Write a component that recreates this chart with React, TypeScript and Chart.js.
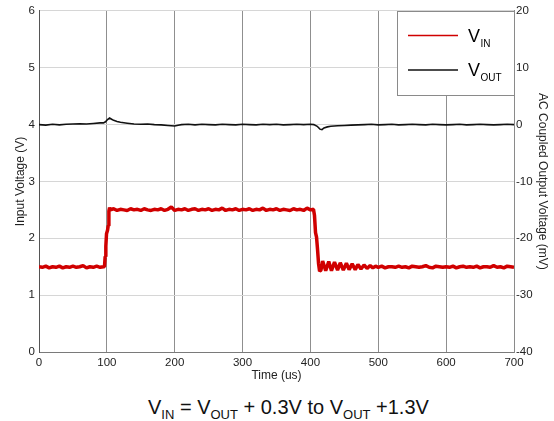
import React, { useEffect, useRef } from "react";
import { Chart, registerables } from "chart.js";

Chart.register(...registerables);

const FONT = "'Liberation Sans', Arial, Helvetica, sans-serif";

// ---- axes ----
const xTicks = [0, 100, 200, 300, 400, 500, 600, 700];
const yLeftTicks = [0, 1, 2, 3, 4, 5, 6];
const yRightTicks = [-40, -30, -20, -10, 0, 10, 20];

// ---- V_IN (left axis, volts) ----
const vinTime = [
  0, 5, 10, 15, 20, 25, 30, 35, 40, 45, 50, 55, 60, 65, 70, 75, 80, 85, 90, 95,
  96.5, 97.5, 98.5, 99.5, 101, 102, 103, 104,
  105, 110, 115, 120, 125, 130, 135, 140, 145, 150, 155, 160, 165, 170, 175, 180, 185, 190, 195, 200,
  205, 210, 215, 220, 225, 230, 235, 240, 245, 250, 255, 260, 265, 270, 275, 280, 285, 290, 295, 300,
  305, 310, 315, 320, 325, 330, 335, 340, 345, 350, 355, 360, 365, 370, 375, 380, 385, 390, 395, 400,
  404.5, 406, 407.5, 409, 410.5, 412, 413.5, 415.5,
  418, 422.5, 427, 431, 435.5, 440, 444, 448.5, 453, 457, 461.5, 466, 470, 474.5, 479, 483.5, 488, 492, 496,
  500, 505, 510, 515, 520, 525, 530, 535, 540, 545, 550, 555, 560, 565, 570, 575, 580, 585, 590, 595,
  600, 605, 610, 615, 620, 625, 630, 635, 640, 645, 650, 655, 660, 665, 670, 675, 680, 685, 690, 695, 700,
];
const vinVolts = [
  1.5, 1.49, 1.51, 1.48, 1.5, 1.49, 1.51, 1.48, 1.5, 1.49, 1.51, 1.49, 1.5, 1.52, 1.48, 1.5, 1.49, 1.51, 1.49, 1.5,
  1.5, 1.68, 1.86, 2.08, 2.14, 2.22, 2.48, 2.54,
  2.5, 2.52, 2.49, 2.51, 2.5, 2.49, 2.52, 2.5, 2.51, 2.49, 2.52, 2.5, 2.49, 2.51, 2.5, 2.52, 2.49, 2.51, 2.55, 2.49,
  2.51, 2.5, 2.52, 2.49, 2.51, 2.52, 2.49, 2.51, 2.5, 2.52, 2.49, 2.51, 2.5, 2.53, 2.49, 2.51, 2.5, 2.52, 2.49, 2.51,
  2.5, 2.52, 2.49, 2.51, 2.5, 2.53, 2.49, 2.51, 2.5, 2.52, 2.49, 2.51, 2.5, 2.49, 2.52, 2.5, 2.51, 2.49, 2.53, 2.5,
  2.51, 2.4, 2.1, 2.02, 1.8, 1.55, 1.42, 1.44,
  1.6, 1.43, 1.59, 1.43, 1.58, 1.44, 1.57, 1.44, 1.56, 1.45, 1.55, 1.45, 1.54, 1.46, 1.53, 1.47, 1.52, 1.48, 1.51,
  1.49, 1.51, 1.48, 1.5, 1.5, 1.49, 1.51, 1.49, 1.5, 1.48, 1.51, 1.5, 1.49, 1.5, 1.52, 1.49, 1.48, 1.51, 1.5, 1.49,
  1.5, 1.49, 1.51, 1.48, 1.5, 1.51, 1.49, 1.5, 1.49, 1.51, 1.48, 1.5, 1.5, 1.49, 1.52, 1.49, 1.5, 1.48, 1.51, 1.5, 1.49,
];

// ---- V_OUT (right axis, mV, AC coupled) ----
const voutTime = [
  0, 10, 20, 30, 40, 50, 60, 70, 80, 90, 95, 98, 101, 104, 107, 110, 115, 120, 130, 140, 150, 160, 170, 180, 190,
  200, 205, 210, 220, 230, 240, 250, 260, 270, 280, 290, 300, 310, 320, 330, 340, 350, 360, 370, 380, 390,
  400, 405, 410, 414, 417, 420, 425, 430, 440, 450, 460, 470, 480, 490,
  500, 510, 520, 530, 540, 550, 560, 570, 580, 590, 600, 610, 620, 630, 640, 650, 660, 670, 680, 690, 700,
];
const voutMv = [
  0, -0.1, 0.05, -0.05, 0.05, 0.1, 0.15, 0.1, 0.2, 0.3, 0.3, 0.5, 0.9, 1.15, 0.95, 0.75, 0.55, 0.4, 0.25, 0.1, 0.05, 0.1, 0, -0.05, -0.15,
  -0.25, -0.1, 0, 0.05, -0.05, 0.05, 0, -0.05, 0.05, 0, -0.05, 0.05, 0, -0.05, 0.05, 0, 0.05, -0.05, 0, 0.05, 0,
  0.05, 0, -0.3, -0.8, -0.9, -0.6, -0.4, -0.3, -0.2, -0.15, -0.1, -0.05, 0, 0.05,
  -0.05, 0, 0.05, -0.05, 0, 0.05, 0, -0.05, 0.05, 0, -0.05, 0, 0.05, -0.05, 0, 0.05, 0, -0.05, 0, 0.05, 0,
];

const legendItems = [
  { sub: "IN", color: "#d00000" },
  { sub: "OUT", color: "#111111" },
];

const legendPlugin = {
  id: "subscriptLegend",
  afterDatasetsDraw(chart: any) {
    const { ctx, chartArea } = chart;
    const w = 117;
    const h = 84;
    const x0 = Math.round(chartArea.right - w);
    const top = Math.round(chartArea.top);
    ctx.save();
    ctx.fillStyle = "#ffffff";
    ctx.fillRect(x0, top, w, h);
    ctx.strokeStyle = "#8a8a8a";
    ctx.lineWidth = 1;
    ctx.strokeRect(x0 + 0.5, top + 0.5, w, h);
    legendItems.forEach((item, i) => {
      const y = top + 24.5 + i * 34.5;
      ctx.strokeStyle = item.color;
      ctx.lineWidth = 1.5;
      ctx.beginPath();
      ctx.moveTo(x0 + 11, y);
      ctx.lineTo(x0 + 61, y);
      ctx.stroke();
      ctx.fillStyle = "#000000";
      ctx.textBaseline = "alphabetic";
      ctx.textAlign = "left";
      ctx.font = `18px ${FONT}`;
      ctx.fillText("V", x0 + 71, y + 6);
      const vw = ctx.measureText("V").width;
      ctx.font = `10px ${FONT}`;
      ctx.fillText(item.sub, x0 + 71 + vw + 0.5, y + 11);
    });
    ctx.restore();
  },
};

export default function App() {
  const ref = useRef<HTMLCanvasElement>(null);

  useEffect(() => {
    const tickFont = { family: FONT, size: 11.5 };
    const titleFont = { family: FONT, size: 12 };
    const chart = new Chart(ref.current as HTMLCanvasElement, {
      type: "line",
      data: {
        datasets: [
          {
            label: "VIN",
            data: vinTime.map((t, i) => ({ x: t, y: vinVolts[i] })),
            borderColor: "#d00000",
            backgroundColor: "#d00000",
            borderWidth: 3.5,
            pointRadius: 0,
            tension: 0,
            borderJoinStyle: "bevel",
            yAxisID: "y",
          },
          {
            label: "VOUT",
            data: voutTime.map((t, i) => ({ x: t, y: voutMv[i] })),
            borderColor: "#111111",
            backgroundColor: "#111111",
            borderWidth: 1.6,
            pointRadius: 0,
            tension: 0,
            yAxisID: "y2",
          },
        ],
      },
      options: {
        responsive: false,
        animation: false,
        devicePixelRatio: 1,
        layout: { padding: { top: 10, left: 0, right: 0, bottom: 0 } },
        plugins: { legend: { display: false }, tooltip: { enabled: false } },
        scales: {
          x: {
            type: "linear",
            min: 0,
            max: 700,
            afterBuildTicks: (s: any) => {
              s.ticks = xTicks.map((v) => ({ value: v }));
            },
            afterFit: (s: any) => {
              s.height = 36;
            },
            grid: { color: "#8f8f8f", lineWidth: 1, drawTicks: false },
            border: { display: true, color: "#7a7a7a", width: 1 },
            ticks: { font: tickFont, color: "#222", padding: 4, maxRotation: 0, callback: (v: any) => String(v) },
            title: { display: true, text: "Time (us)", font: titleFont, color: "#222", padding: { top: 0, bottom: 4.8 } },
          },
          y: {
            type: "linear",
            position: "left",
            min: 0,
            max: 6,
            afterBuildTicks: (s: any) => {
              s.ticks = yLeftTicks.map((v) => ({ value: v }));
            },
            afterFit: (s: any) => {
              s.width = 39;
            },
            grid: { color: "#d6d6d6", lineWidth: 1, drawTicks: false },
            border: { display: true, color: "#555555", width: 1 },
            ticks: { font: tickFont, color: "#222", padding: 4, callback: (v: any) => String(v) },
            title: { display: true, text: "Input Voltage (V)", font: titleFont, color: "#222", padding: { top: 13.3, bottom: 0 } },
          },
          y2: {
            type: "linear",
            position: "right",
            min: -40,
            max: 20,
            afterBuildTicks: (s: any) => {
              s.ticks = yRightTicks.map((v) => ({ value: v }));
            },
            afterFit: (s: any) => {
              s.width = 40;
            },
            grid: { display: false, drawTicks: false },
            border: { display: true, color: "#8a8a8a", width: 1 },
            ticks: { font: tickFont, color: "#222", padding: 2, callback: (v: any) => String(v) },
            title: {
              display: true,
              text: "AC Coupled Output Voltage (mV)",
              font: titleFont,
              color: "#222",
              padding: { top: 4.3, bottom: 0 },
            },
          },
        },
      },
      plugins: [legendPlugin],
    } as any);
    return () => chart.destroy();
  }, []);

  const sub = { fontSize: 13, position: "relative" as const, top: 5 };

  return (
    <div style={{ position: "absolute", left: 0, top: 0, width: 554, height: 421, background: "#fff" }}>
      <canvas ref={ref} width={554} height={388} style={{ display: "block", width: 554, height: 388 }} />
      <div
        style={{
          position: "absolute",
          left: 148,
          top: 396,
          fontFamily: FONT,
          fontSize: 20,
          lineHeight: "23px",
          color: "#111",
          whiteSpace: "nowrap",
        }}
      >
        V<span style={sub}>IN</span> = V<span style={sub}>OUT</span> + 0.3V to V<span style={sub}>OUT</span> +1.3V
      </div>
    </div>
  );
}
